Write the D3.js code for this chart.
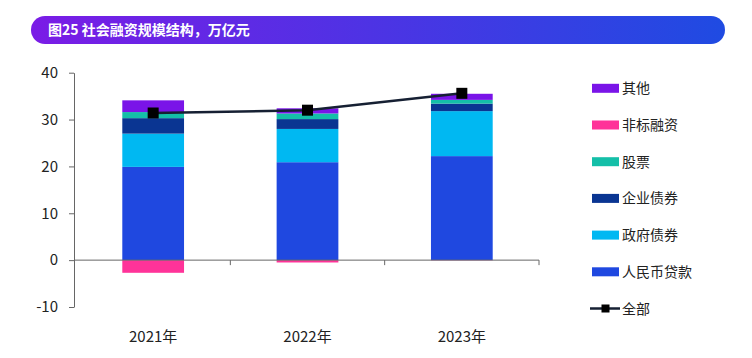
<!DOCTYPE html>
<html><head><meta charset="utf-8">
<script src="https://cdn.jsdelivr.net/npm/d3@7/dist/d3.min.js"></script>
<style>body{margin:0;background:#fff}svg{display:block}</style>
</head><body><svg id="c" width="752" height="358"></svg>
<script>
const categories = ["2021年","2022年","2023年"];
const seriesNames = ["人民币贷款","政府债券","企业债券","股票","非标融资","其他"];
const loans     = [19.9, 20.9, 22.2];
const govBonds  = [7.1, 7.1, 9.6];
const corpBonds = [3.3, 2.1, 1.6];
const stocks    = [1.3, 1.2, 0.8];
const nonStd    = [-2.7, -0.5, -0.05];
const others    = [2.5, 1.1, 1.3];
const total     = [31.4, 32.0, 35.6];
const yTicks    = [-10, 0, 10, 20, 30, 40];
const colors    = ["#1f48e0","#00b8f2","#0a3592","#14bfa8","#ff3399","#7a14e8"];

const svg = d3.select("#c");
const font = "'Noto Sans CJK SC','Noto Sans',sans-serif";

// banner
const defs = svg.append("defs");
const g = defs.append("linearGradient").attr("id","bg").attr("x1","0").attr("x2","1");
g.append("stop").attr("offset","0").attr("stop-color","#7a1ce6");
g.append("stop").attr("offset","1").attr("stop-color","#1f4be2");
svg.append("rect").attr("x",31).attr("y",16).attr("width",694).attr("height",28)
  .attr("rx",14).attr("fill","url(#bg)");
svg.append("text").attr("x",48).attr("y",35).attr("fill","#fff")
  .attr("font-family",font).attr("font-weight","bold").attr("font-size",14)
  .text("图25 社会融资规模结构，万亿元");

const y = d3.scaleLinear().domain([-10,40]).range([307,72.7]);
const x = d3.scaleBand().domain(categories).range([76,539]).paddingInner(0.6).paddingOuter(0.3);

const vals = [loans, govBonds, corpBonds, stocks, nonStd, others];
const chart = svg.append("g");
categories.forEach((c,i)=>{
  let pos=0, neg=0;
  vals.forEach((arr,k)=>{
    const v=arr[i];
    let y0,y1;
    if(v>=0){y0=pos;y1=pos+v;pos=y1;}else{y0=neg;y1=neg+v;neg=y1;}
    chart.append("rect").attr("x",x(c)).attr("width",x.bandwidth())
      .attr("y",y(Math.max(y0,y1))).attr("height",Math.abs(y(y0)-y(y1)))
      .attr("fill",colors[k]);
  });
});

// axes
const yAxis = svg.append("g").attr("transform","translate(74,0)")
  .call(d3.axisLeft(y).tickValues(yTicks).tickFormat(d=>String(d)).tickSize(5).tickSizeOuter(0));
yAxis.select(".domain").attr("stroke","#666");
yAxis.selectAll(".tick line").attr("stroke","#666");
yAxis.selectAll("text").attr("font-family",font).attr("font-size",15).attr("fill","#222").attr("dx","-8");

const xAxis = svg.append("g").attr("transform",`translate(0,${y(0)})`);
xAxis.append("line").attr("x1",74).attr("x2",539).attr("stroke","#666");
const step = (539-76)/3;
[1,2,3].forEach(k=>{
  xAxis.append("line").attr("x1",76+step*k).attr("x2",76+step*k).attr("y1",0).attr("y2",5).attr("stroke","#666");
});
categories.forEach(c=>{
  svg.append("text").attr("x",x(c)+x.bandwidth()/2).attr("y",342)
    .attr("text-anchor","middle").attr("font-family",font).attr("font-size",15).attr("fill","#222").text(c);
});

// total line
const cx = c=>x(c)+x.bandwidth()/2;
svg.append("path").datum(total)
  .attr("d",d3.line().x((d,i)=>cx(categories[i])).y(d=>y(d)))
  .attr("fill","none").attr("stroke","#162033").attr("stroke-width",2.5);
svg.selectAll(".mk").data(total).enter().append("rect")
  .attr("x",(d,i)=>cx(categories[i])-5.5).attr("y",d=>y(d)-5.5)
  .attr("width",11).attr("height",11).attr("fill","#000");

// legend
const legItems = ["其他","非标融资","股票","企业债券","政府债券","人民币贷款"];
const legColors = [colors[5],colors[4],colors[3],colors[2],colors[1],colors[0]];
legItems.forEach((n,i)=>{
  const yy = 88.3 + i*36.7;
  svg.append("rect").attr("x",592).attr("y",yy-4.5).attr("width",27).attr("height",9).attr("fill",legColors[i]);
  svg.append("text").attr("x",622).attr("y",yy+5).attr("font-family",font).attr("font-size",14).attr("fill","#222").text(n);
});
const ly = 88.3+6*36.7;
svg.append("line").attr("x1",590).attr("x2",620).attr("y1",ly).attr("y2",ly).attr("stroke","#162033").attr("stroke-width",2.5);
svg.append("rect").attr("x",601.5).attr("y",ly-4).attr("width",8).attr("height",8).attr("fill","#000");
svg.append("text").attr("x",622).attr("y",ly+5).attr("font-family",font).attr("font-size",14).attr("fill","#222").text("全部");
</script></body></html>
